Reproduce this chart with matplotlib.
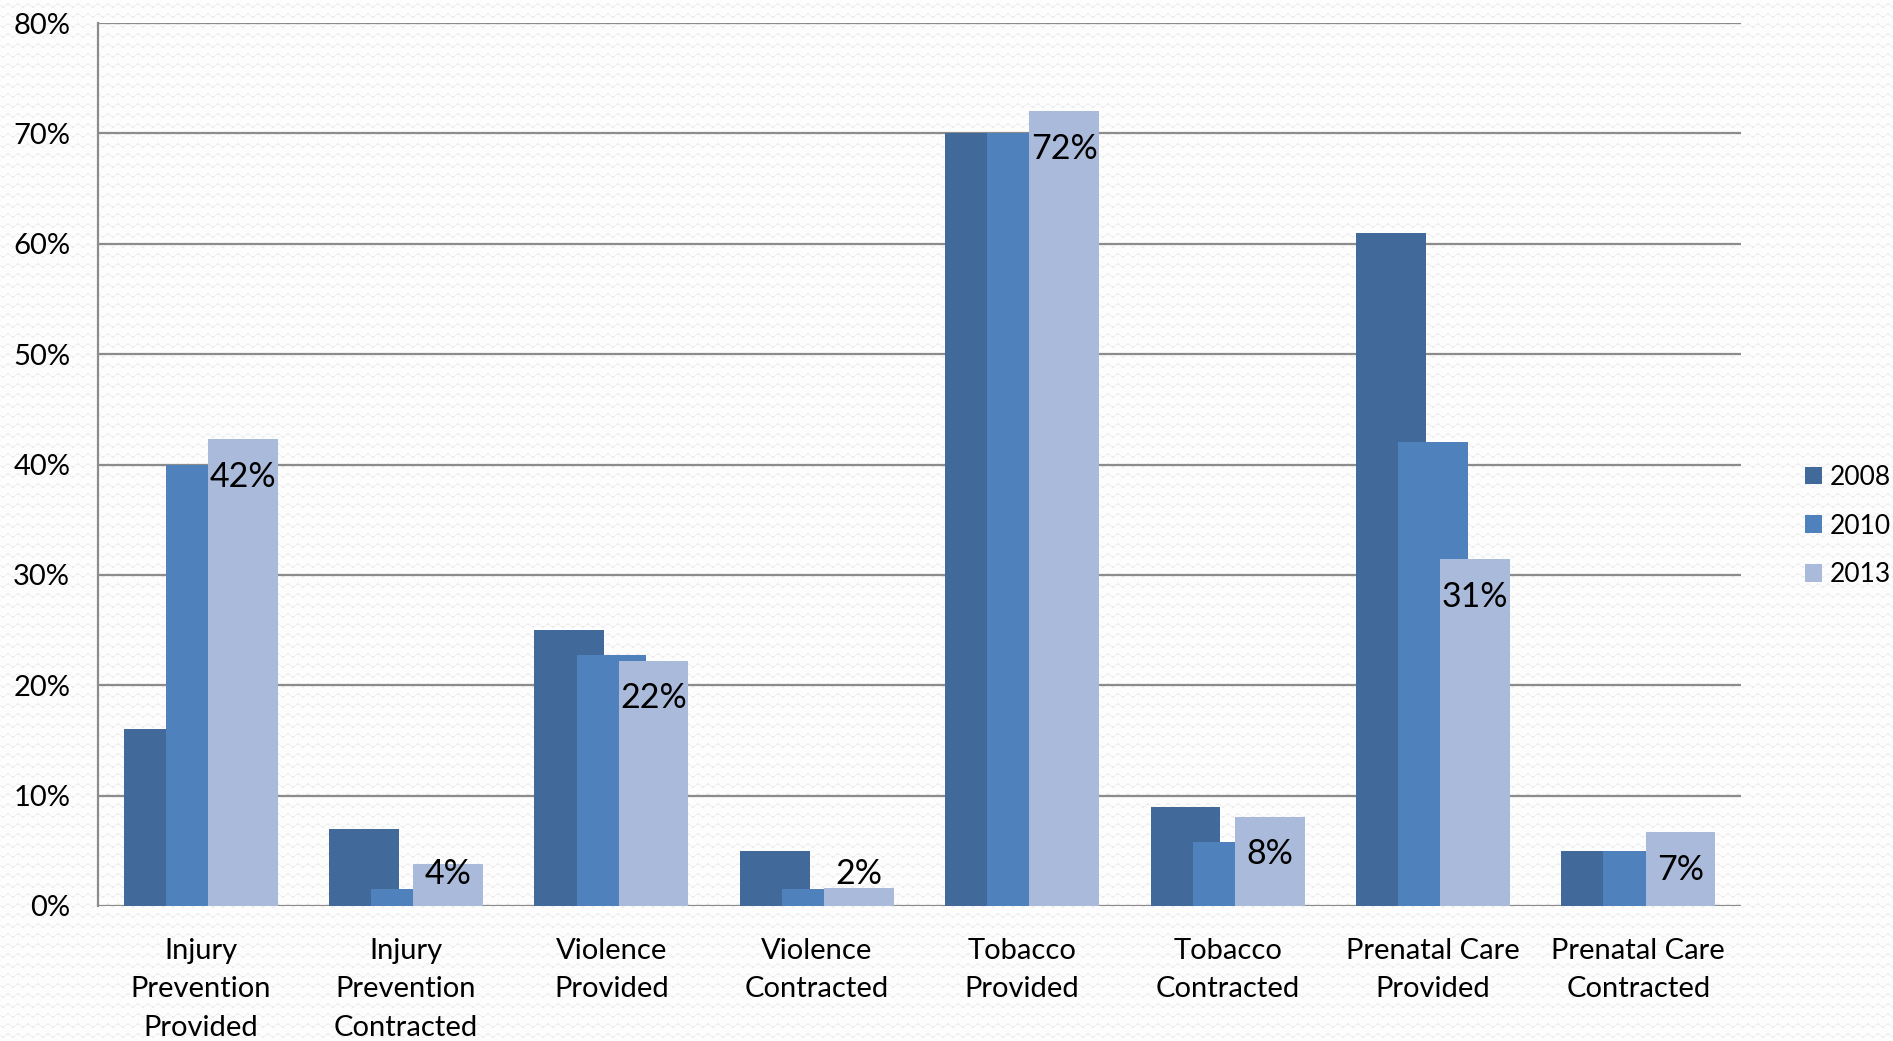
import numpy as np
import matplotlib
matplotlib.use('Agg')
import matplotlib.pyplot as plt
from matplotlib.ticker import PercentFormatter

plt.rcParams['font.family'] = ['Lato', 'DejaVu Sans']

categories = ['Injury\nPrevention\nProvided', 'Injury\nPrevention\nContracted',
              'Violence\nProvided', 'Violence\nContracted',
              'Tobacco\nProvided', 'Tobacco\nContracted',
              'Prenatal Care\nProvided', 'Prenatal Care\nContracted']
years = ['2008', '2010', '2013']
v2008 = [0.16, 0.07, 0.25, 0.05, 0.70, 0.09, 0.61, 0.05]
v2010 = [0.40, 0.015, 0.227, 0.015, 0.70, 0.058, 0.42, 0.05]
v2013 = [0.423, 0.038, 0.222, 0.016, 0.72, 0.081, 0.314, 0.067]
colors = ['#416A9B', '#4F81BD', '#AABADA']

W, H = 1893, 1041
fig = plt.figure(figsize=(W / 100, H / 100), dpi=100)
fig.patch.set_facecolor('white')

# faint zigzag paper texture behind everything
yy, xx = np.mgrid[0:H, 0:W]
wave = 1.6 * np.sin(2 * np.pi * xx / 10.0)
d = np.abs(((yy - wave) % 10) - 5)
tex = np.where(d < 0.9, 0.935, 0.995)
fig.figimage(np.dstack([tex, tex, tex]), xo=0, yo=0, zorder=-10)

ax = fig.add_axes([98 / W, 1 - 906 / H, (1741 - 98) / W, (906 - 23) / H])
ax.patch.set_alpha(0)

x = np.arange(len(categories))
width = 0.34
step = 0.205
series = [v2008, v2010, v2013]
for i, (vals, c, lab) in enumerate(zip(series, colors, years)):
    ax.bar(x + (i - 1) * step, vals, width, color=c, label=lab, zorder=3 + i)

# value labels on the 2013 bars, inside the top end
for xi, v in zip(x, v2013):
    ty = max(v - 0.034, 0.029)
    ax.text(xi + step, ty, f'{v * 100:.0f}%', ha='center', va='center',
            fontsize=24.5, color='black', zorder=10)

ax.set_xlim(-0.5, len(categories) - 0.5)
ax.set_ylim(0, 0.8)
ax.set_yticks(np.arange(0, 0.81, 0.1))
ax.yaxis.set_major_formatter(PercentFormatter(1.0, decimals=0))
ax.grid(axis='y', color='#8C8C8C', linewidth=1.6, zorder=0)
ax.set_axisbelow(True)
for s in ['top', 'right', 'bottom']:
    ax.spines[s].set_visible(False)
ax.spines['left'].set_color('#8C8C8C')
ax.spines['left'].set_linewidth(1.6)

ax.set_xticks(x)
ax.set_xticklabels(categories, fontsize=21, linespacing=1.59)
ax.tick_params(axis='x', length=0, pad=23)
ax.tick_params(axis='y', length=0, pad=20, labelsize=21)

ax.legend(loc='center left', bbox_to_anchor=(1805 / W, 1 - 526 / H),
          bbox_transform=fig.transFigure, frameon=False, fontsize=19,
          handlelength=0.65, handleheight=0.65, handletextpad=0.3,
          labelspacing=0.9, borderpad=0, borderaxespad=0)

fig.savefig('out.png', dpi=100)
